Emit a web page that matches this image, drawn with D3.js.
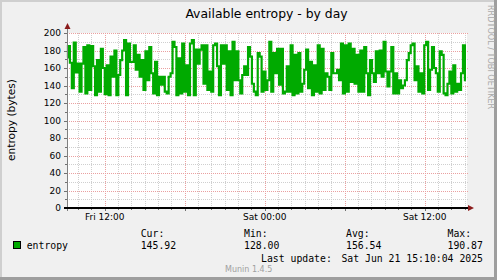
<!DOCTYPE html>
<html lang="en">
<head>
    <meta charset="UTF-8">
    <title>Available entropy - by day</title>
    <script src="https://d3js.org/d3.v7.min.js"></script>
    <style>
        body { margin: 0; background: #f0f0f0; }
        svg { display: block; }
        text { font-family: "DejaVu Sans", sans-serif; }
        .mono { font-family: "DejaVu Sans Mono", monospace; }
    </style>
</head>
<body>
<div id="chart"></div>
<script>
    // entropy samples (bytes) left to right
    const entropy = [
        172, 185, 166, 137, 189, 155, 165, 133, 165, 184, 131, 186, 135, 185, 162, 129, 169, 133, 182, 160,
        130, 163, 129, 173, 150, 180, 129, 152, 169, 180, 192, 129, 188, 167,
        167, 186, 158, 175, 150, 169, 135, 179, 146, 184, 154, 131, 167, 129, 150, 141, 150, 133, 131, 150,
        154, 190, 184, 129, 171, 131, 188, 133, 163, 129, 188, 192, 129, 181, 165,
        181, 186, 142, 186, 135, 156, 133, 186, 188, 162, 129, 186, 165, 186, 135, 179, 129, 190, 146, 179,
        146, 131, 152, 162, 152, 184, 173, 142, 133, 129, 177, 173, 133, 156, 135,
        146, 190, 133, 177, 154, 182, 141, 182, 131, 133, 162, 133, 186, 129, 175, 131, 177, 133, 142, 158,
        181, 137, 167, 129, 163, 133, 186, 131, 182, 135, 154, 150, 135, 177, 154,
        154, 158, 146, 188, 131, 186, 133, 188, 144, 182, 142, 175, 133, 180, 133, 184, 154, 129, 169, 154,
        144, 179, 154, 180, 150, 190, 156, 139, 156, 184, 131, 154, 131, 146, 137,
        140, 146, 169, 177, 186, 188, 146, 162, 133, 154, 131, 186, 190, 135, 158, 184, 160, 154, 133, 179,
        175, 131, 129, 142, 156, 131, 163, 133, 142, 135, 154, 186, 146
    ];

    const yTicks = [0, 20, 40, 60, 80, 100, 120, 140, 160, 180, 200];
    const statLabels = ["Cur:", "Min:", "Avg:", "Max:"];
    const statValues = ["145.92", "128.00", "156.54", "190.87"];
    const lastUpdate = "Sat Jun 21 15:10:04 2025";

    const startTime = new Date(Date.UTC(2025, 5, 20, 9, 10));
    const endTime = new Date(Date.UTC(2025, 5, 21, 15, 10));
    const lastSample = new Date(Date.UTC(2025, 5, 21, 15, 5));

    const width = 497, height = 280;
    const plotL = 67, plotR = 467, plotT = 33, plotB = 208;

    const svg = d3.select("#chart").append("svg")
        .attr("width", width).attr("height", height);

    // background + 3d frame
    svg.append("rect").attr("width", width).attr("height", height).attr("fill", "#f0f0f0");
    svg.append("rect").attr("x", 0).attr("y", 0).attr("width", width).attr("height", 2).attr("fill", "#cfcfcf");
    svg.append("rect").attr("x", 0).attr("y", 0).attr("width", 2).attr("height", height).attr("fill", "#cfcfcf");
    svg.append("rect").attr("x", width - 3).attr("y", 0).attr("width", 3).attr("height", height).attr("fill", "#9e9e9e");
    svg.append("rect").attr("x", 0).attr("y", height - 3).attr("width", width).attr("height", 3).attr("fill", "#9e9e9e");

    // scales
    const x = d3.scaleUtc().domain([startTime, endTime]).range([plotL, plotR]);
    const y = d3.scaleLinear().domain([0, 200]).range([plotB, plotT]);
    const idxToTime = d3.scaleLinear().domain([0, entropy.length - 1]).range([startTime, lastSample]);

    // plot canvas
    svg.append("rect").attr("x", plotL).attr("y", plotT).attr("width", plotR - plotL).attr("height", plotB - plotT)
        .attr("fill", "#ffffff");

    // grid
    const grid = svg.append("g").attr("shape-rendering", "crispEdges");
    const hours = d3.utcHour.range(d3.utcHour.ceil(startTime), endTime);
    grid.selectAll(".vgrid").data(hours).enter().append("line")
        .attr("x1", d => Math.round(x(d)) + 0.5).attr("x2", d => Math.round(x(d)) + 0.5)
        .attr("y1", plotT).attr("y2", plotB)
        .attr("stroke", d => d.getUTCHours() % 6 === 0 ? "#eaa0a0" : "#cfcfcf")
        .attr("stroke-dasharray", "1,1");
    grid.selectAll(".hgrid").data(d3.range(10, 201, 10)).enter().append("line")
        .attr("x1", plotL).attr("x2", plotR + 2)
        .attr("y1", d => Math.round(y(d)) + 0.5).attr("y2", d => Math.round(y(d)) + 0.5)
        .attr("stroke", d => d % 20 === 0 ? "#eaa0a0" : "#cfcfcf")
        .attr("stroke-dasharray", "1,1");

    // tick marks
    grid.selectAll(".ytick").data(d3.range(0, 201, 10)).enter().append("line")
        .attr("x1", plotL).attr("x2", d => d % 20 === 0 ? plotL - 3 : plotL - 2)
        .attr("y1", d => Math.round(y(d)) + 0.5).attr("y2", d => Math.round(y(d)) + 0.5)
        .attr("stroke", "#707070");
    grid.selectAll(".xtick").data(hours).enter().append("line")
        .attr("x1", d => Math.round(x(d)) + 0.5).attr("x2", d => Math.round(x(d)) + 0.5)
        .attr("y1", plotB).attr("y2", d => d.getUTCHours() % 6 === 0 ? plotB + 3 : plotB + 2)
        .attr("stroke", "#707070");

    // data line (sampled steps, like rrdtool)
    const line = d3.line()
        .x((d, i) => x(idxToTime(i)))
        .y(d => y(d))
        .curve(d3.curveStep);
    svg.append("path").datum(entropy)
        .attr("d", line)
        .attr("fill", "none")
        .attr("stroke", "#00aa00")
        .attr("stroke-width", 2.2);

    // axes
    svg.append("line").attr("x1", plotL + 0.5).attr("x2", plotL + 0.5).attr("y1", plotB + 3).attr("y2", plotT - 5)
        .attr("stroke", "#808080").attr("shape-rendering", "crispEdges");
    svg.append("line").attr("x1", plotL - 3).attr("x2", plotR + 2).attr("y1", plotB).attr("y2", plotB)
        .attr("stroke", "#000").attr("stroke-width", 2).attr("shape-rendering", "crispEdges");
    svg.append("path").attr("d", `M${plotL - 2.5},${plotT - 4} L${plotL + 3.5},${plotT - 4} L${plotL + 0.5},${plotT - 10} Z`)
        .attr("fill", "#8b1c1c");
    svg.append("path").attr("d", `M${plotR + 1},${plotB - 3} L${plotR + 1},${plotB + 3} L${plotR + 7},${plotB} Z`)
        .attr("fill", "#8b1c1c");

    // tick labels
    svg.selectAll(".ylab").data(yTicks).enter().append("text")
        .attr("x", plotL - 6).attr("y", d => y(d)).attr("dy", "0.36em")
        .attr("text-anchor", "end").attr("font-size", "9px").attr("fill", "#000")
        .text(d => d);
    const xLabelTimes = d3.utcHour.range(startTime, endTime).filter(d => d.getUTCHours() % 12 === 0);
    svg.selectAll(".xlab").data(xLabelTimes).enter().append("text")
        .attr("x", d => x(d)).attr("y", 220)
        .attr("text-anchor", "middle").attr("font-size", "9px").attr("fill", "#000")
        .text(d => d3.utcFormat("%a %H:%M")(d));

    // titles
    svg.append("text").attr("x", 266.5).attr("y", 17.5).attr("text-anchor", "middle")
        .attr("font-size", "12.4px").attr("fill", "#000").text("Available entropy - by day");
    svg.append("text").attr("transform", "translate(14.5,120) rotate(-90)").attr("text-anchor", "middle")
        .attr("font-size", "10.6px").attr("fill", "#000").text("entropy (bytes)");
    svg.append("text").attr("transform", "translate(487.5,5) rotate(90)")
        .attr("font-size", "8.1px").attr("fill", "#aaaaaa").text("RRDTOOL / TOBI OETIKER");

    // legend
    svg.append("rect").attr("x", 13.5).attr("y", 241.5).attr("width", 7).attr("height", 7)
        .attr("fill", "#00aa00").attr("stroke", "#000");
    svg.append("text").attr("class", "mono").attr("x", 26.7).attr("y", 249.3)
        .attr("font-size", "9.8px").text("entropy");
    const statX = [140.7, 244, 346, 447.5];
    svg.selectAll(".statlab").data(statLabels).enter().append("text")
        .attr("class", "mono").attr("x", (d, i) => statX[i]).attr("y", 237.4)
        .attr("font-size", "9.8px").text(d => d);
    svg.selectAll(".statval").data(statValues).enter().append("text")
        .attr("class", "mono").attr("x", (d, i) => statX[i]).attr("y", 249.3)
        .attr("font-size", "9.8px").text(d => d);
    svg.append("text").attr("class", "mono").attr("x", 261).attr("y", 261.5)
        .attr("font-size", "9.8px").text("Last update:");
    svg.append("text").attr("class", "mono").attr("x", 483).attr("y", 261.5).attr("text-anchor", "end")
        .attr("font-size", "9.8px").text(lastUpdate);

    svg.append("text").attr("x", 248.7).attr("y", 272).attr("text-anchor", "middle")
        .attr("font-size", "8px").attr("fill", "#a0a0a0").text("Munin 1.4.5");
</script>
</body>
</html>
